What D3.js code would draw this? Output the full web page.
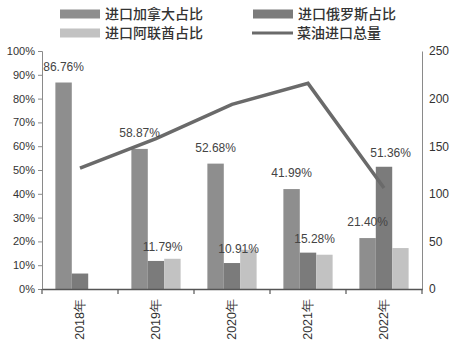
<!DOCTYPE html>
<html><head><meta charset="utf-8">
<script src="https://cdn.jsdelivr.net/npm/d3@7"></script>
<style>body{margin:0;background:#fff}svg{display:block}</style>
</head><body><svg id="c" width="462" height="349"></svg>
<script>
const years = ["2018年","2019年","2020年","2021年","2022年"];
const seriesNames = ["进口加拿大占比","进口俄罗斯占比","进口阿联酋占比"];
const canada = [86.76, 58.87, 52.68, 41.99, 21.40];
const russia = [6.5, 11.79, 10.91, 15.28, 51.36];
const uae = [null, 12.7, 16.5, 14.4, 17.2];
const lineName = "菜油进口总量";
const rapeseedOilImport = [127, 158, 194, 216, 106];
const canadaLabels = ["86.76%","58.87%","52.68%","41.99%","21.40%"];
const russiaLabels = [null,"11.79%","10.91%","15.28%","51.36%"];
const leftTicks = [0,10,20,30,40,50,60,70,80,90,100];
const rightTicks = [0,50,100,150,200,250];

const svg = d3.select("#c");
const L = 42, R = 422, T = 51, B = 289;
const colors = ["#8e8e8e","#7b7b7b","#c2c2c2"];
const lineColor = "#6a6a6a";
const font = "'Liberation Sans', Arial, sans-serif";
const cjk = "'Noto Sans CJK SC', sans-serif";

const x0 = d3.scaleBand().domain(years).range([L, R]).padding(0);
const x1 = d3.scaleBand().domain(seriesNames).range([x0.bandwidth()*0.176, x0.bandwidth()*0.824]).padding(0);
const yL = d3.scaleLinear().domain([0,100]).range([B, T]);
const yR = d3.scaleLinear().domain([0,250]).range([B, T]);

const data = [canada, russia, uae];
// bars
data.forEach((vals, si) => {
  svg.append("g").selectAll("rect").data(years.map((y,i)=>({y, v: vals[i]})).filter(d=>d.v!=null))
    .join("rect")
    .attr("x", d => x0(d.y) + x1(seriesNames[si]))
    .attr("y", d => yL(d.v))
    .attr("width", x1.bandwidth())
    .attr("height", d => B - yL(d.v))
    .attr("fill", colors[si]);
});

// line
const line = d3.line().x((d,i)=>x0(years[i]) + x0.bandwidth()/2).y(d=>yR(d));
svg.append("path").datum(rapeseedOilImport).attr("d", line)
  .attr("fill","none").attr("stroke", lineColor).attr("stroke-width", 3.5);

// axes
const gL = svg.append("g").attr("transform", `translate(${L},0)`)
  .call(d3.axisLeft(yL).tickValues(leftTicks).tickFormat(d=>d+"%").tickSizeOuter(0).tickSize(4).tickPadding(3));
gL.select(".domain").attr("stroke","#8a8a8a");
gL.selectAll(".tick line").attr("stroke","#8a8a8a");
gL.selectAll("text").attr("font-family", font).attr("font-size", 11).attr("fill","#333");

const gR = svg.append("g").attr("transform", `translate(${R},0)`)
  .call(d3.axisRight(yR).tickValues(rightTicks).tickSizeOuter(0).tickSize(0).tickPadding(7));
gR.select(".domain").attr("stroke","#8a8a8a");
gR.selectAll("text").attr("font-family", font).attr("font-size", 12).attr("fill","#333");

const gX = svg.append("g").attr("transform", `translate(0,${B})`)
  .call(d3.axisBottom(x0).tickSize(0).tickSizeOuter(0));
gX.select(".domain").attr("stroke","#555").attr("stroke-width",1.5);
gX.selectAll(".tick text").remove();
gX.selectAll(".tick line").remove();
// boundary ticks
const bounds = years.map(y=>x0(y)).concat([R]);
gX.selectAll(".bt").data(bounds).join("line")
  .attr("x1", d=>d).attr("x2", d=>d).attr("y1",0).attr("y2",5).attr("stroke","#555").attr("stroke-width",1.2);
// rotated category labels
gX.selectAll(".cl").data(years).join("text")
  .attr("transform", d=>`translate(${x0(d)+x0.bandwidth()/2},10) rotate(-90)`)
  .attr("text-anchor","end").attr("dy","0.35em")
  .attr("font-family", font).attr("font-size", 12.5).attr("fill","#333")
  .text(d=>d);

// value labels
svg.append("g").selectAll("text").data(years.map((y,i)=>({y, v: canada[i], t: canadaLabels[i]})))
  .join("text")
  .attr("x", d => x0(d.y) + x1(seriesNames[0]) + x1.bandwidth()/2)
  .attr("y", d => yL(d.v) - 12)
  .attr("text-anchor","middle").attr("font-family", font).attr("font-size", 12).attr("fill","#444")
  .text(d=>d.t);
svg.append("g").selectAll("text").data(years.map((y,i)=>({y, v: russia[i], t: russiaLabels[i]})).filter(d=>d.t))
  .join("text")
  .attr("x", d => x0(d.y) + x1(seriesNames[1]) + x1.bandwidth()*0.9)
  .attr("y", d => yL(d.v) - 10)
  .attr("text-anchor","middle").attr("font-family", font).attr("font-size", 12).attr("fill","#444")
  .text(d=>d.t);

// legend
const legendItems = [
  {name: seriesNames[0], type:"bar", c: colors[0], x:60, y:14},
  {name: seriesNames[1], type:"bar", c: colors[1], x:253, y:14},
  {name: seriesNames[2], type:"bar", c: colors[2], x:60, y:33},
  {name: lineName, type:"line", c: lineColor, x:252, y:33}
];
const lg = svg.append("g");
legendItems.forEach(it => {
  if (it.type === "bar") lg.append("rect").attr("x", it.x).attr("y", it.y-4.5).attr("width",40).attr("height",9).attr("fill", it.c);
  else lg.append("line").attr("x1", it.x).attr("x2", it.x+41).attr("y1", it.y).attr("y2", it.y).attr("stroke", it.c).attr("stroke-width",3);
  lg.append("text").attr("x", it.x+45).attr("y", it.y).attr("dy","0.36em")
    .attr("font-family", cjk).attr("font-size", 14).attr("font-weight", 500).attr("fill","#333").text(it.name);
});
</script></body></html>
